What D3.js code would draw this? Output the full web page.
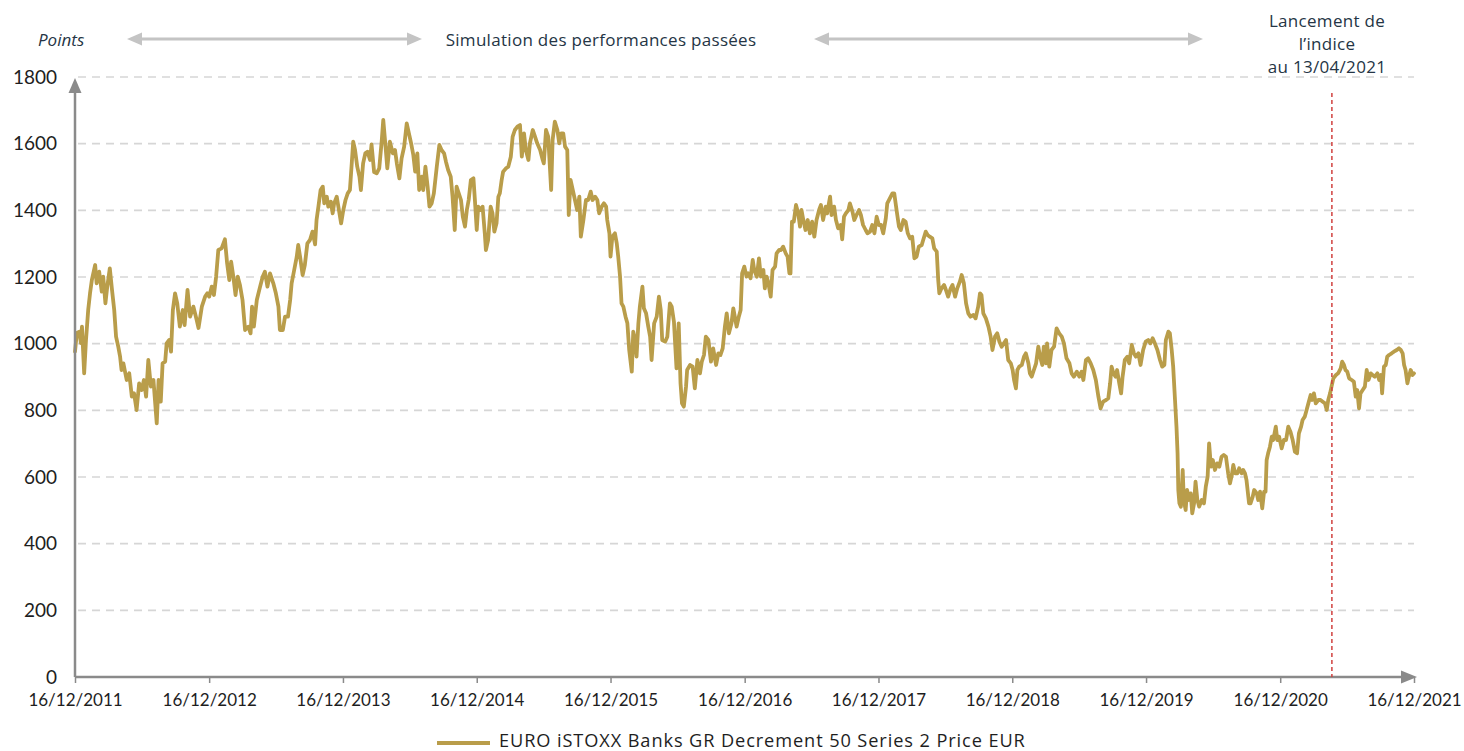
<!DOCTYPE html>
<html><head><meta charset="utf-8">
<script src="https://cdn.jsdelivr.net/npm/d3@7"></script>
<style>
html,body{margin:0;padding:0;background:#fff;overflow:hidden;}
svg{display:block;font-family:Lato,"Open Sans",sans-serif;}
</style></head><body>
<svg id="chart" width="1464" height="751"></svg>
<script>
// ---------------- DATA ----------------
const startDate = "16/12/2011";
const endDate = "16/12/2021";
const tickLabels = ["16/12/2011","16/12/2012","16/12/2013","16/12/2014","16/12/2015","16/12/2016","16/12/2017","16/12/2018","16/12/2019","16/12/2020","16/12/2021"];
const yTicks = [0,200,400,600,800,1000,1200,1400,1600,1800];
const seriesName = "EURO iSTOXX Banks GR Decrement 50 Series 2 Price EUR";
const unitLabel = "Points";
const simulationLabel = "Simulation des performances passées";
const launchLabel = ["Lancement de","l\u2019indice","au 13/04/2021"];
const launchMarkerDate = "06/05/2021";

// days elapsed since startDate
const dayOffsets = [
0,5,12,16,19,25,30,36,41,46,
55,59,66,73,77,83,88,95,101,107,
112,118,123,127,132,141,148,155,161,168,
175,182,188,194,200,207,214,223,228,234,
239,246,250,257,262,267,273,279,286,294,
299,307,314,323,332,337,346,355,361,366,
373,379,385,391,400,409,415,421,426,432,
438,444,450,457,464,473,479,483,488,496,
505,512,518,525,532,541,548,555,559,567,
573,581,587,591,598,605,609,614,621,627,
634,641,648,655,659,664,670,676,680,687,
691,698,703,707,714,720,726,732,738,744,
750,755,759,764,770,776,780,786,792,798,
805,809,816,823,830,837,841,848,852,859,
867,873,878,885,891,898,905,911,917,923,
928,934,939,946,950,956,962,967,973,979,
987,994,1000,1007,1012,1018,1025,1030,1036,1041,
1047,1053,1058,1064,1069,1074,1080,1087,1091,1096,
1100,1107,1112,1118,1121,1127,1134,1139,1144,1150,
1155,1159,1164,1168,1176,1182,1189,1194,1200,1207,
1214,1219,1225,1230,1237,1241,1249,1255,1261,1269,
1276,1279,1285,1291,1299,1303,1309,1316,1321,1326,
1332,1337,1343,1347,1352,1358,1364,1370,1376,1380,
1387,1394,1400,1407,1412,1419,1425,1430,1437,1443,
1449,1452,1458,1461,1466,1473,1478,1482,1487,1491,
1496,1502,1507,1512,1519,1523,1528,1532,1537,1541,
1548,1552,1558,1564,1569,1573,1580,1587,1593,1598,
1602,1610,1616,1623,1628,1634,1641,1647,1652,1656,
1661,1667,1670,1678,1685,1691,1698,1705,1710,1716,
1721,1728,1735,1741,1749,1755,1761,1767,1773,1778,
1784,1791,1796,1800,1805,1811,1816,1820,1826,1832,
1837,1843,1849,1853,1860,1866,1871,1878,1882,1887,
1891,1898,1903,1910,1914,1921,1926,1932,1939,1944,
1949,1952,1956,1961,1967,1973,1978,1982,1987,1993,
1999,2005,2011,2017,2023,2030,2035,2041,2048,2052,
2060,2064,2071,2076,2082,2089,2093,2098,2103,2110,
2114,2121,2126,2132,2139,2144,2150,2157,2162,2169,
2175,2181,2187,2193,2199,2205,2212,2216,2223,2230,
2235,2242,2248,2253,2260,2266,2272,2278,2284,2290,
2296,2302,2310,2314,2321,2326,2332,2339,2344,2351,
2355,2358,2364,2371,2376,2382,2389,2394,2401,2407,
2414,2419,2425,2431,2437,2443,2451,2457,2464,2469,
2473,2478,2485,2492,2498,2503,2510,2516,2522,2528,
2534,2540,2546,2553,2558,2562,2567,2571,2576,2583,
2589,2594,2601,2605,2610,2616,2622,2628,2633,2639,
2643,2649,2652,2658,2664,2671,2678,2685,2692,2698,
2705,2713,2719,2725,2733,2740,2746,2751,2758,2764,
2771,2778,2785,2792,2798,2805,2813,2819,2824,2828,
2833,2839,2843,2849,2854,2858,2864,2871,2876,2883,
2889,2894,2901,2907,2914,2921,2928,2934,2940,2946,
2953,2960,2966,2972,2976,2983,2987,2992,2996,3001,
3005,3008,3010,3013,3017,3022,3025,3030,3034,3039,
3044,3048,3053,3057,3062,3067,3074,3080,3085,3090,
3094,3099,3104,3110,3116,3122,3128,3134,3140,3146,
3151,3156,3160,3165,3171,3176,3183,3187,3192,3196,
3203,3207,3213,3217,3224,3228,3233,3239,3244,3248,
3251,3255,3260,3265,3269,3276,3280,3285,3292,3298,
3304,3310,3316,3322,3328,3334,3339,3345,3349,3355,
3360,3366,3371,3375,3380,3385,3392,3398,3404,3410,
3415,3419,3424,3428,3433,3440,3446,3453,3457,3462,
3466,3471,3476,3483,3489,3494,3498,3503,3507,3513,
3519,3524,3529,3535,3540,3546,3553,3558,3563,3566,
3571,3576,3580,3585,3592,3598,3606,3612,3617,3622,
3626,3630,3635,3639,3644,3649,3653
];

const indexValues = [
976,1032,1036,1002,1051,911,1011,1101,1151,1191,
1236,1181,1216,1156,1201,1121,1171,1226,1161,1101,
1021,991,961,921,941,891,911,841,851,801,
881,861,891,841,951,871,891,761,891,826,
941,946,1001,1011,976,1101,1151,1121,1051,1101,
1056,1161,1081,1111,1071,1047,1111,1141,1151,1141,
1171,1146,1201,1281,1286,1313,1241,1191,1246,1201,
1146,1201,1176,1131,1041,1051,1031,1111,1051,1131,
1171,1201,1216,1171,1211,1181,1151,1111,1041,1041,
1081,1081,1131,1181,1221,1261,1296,1261,1206,1236,
1301,1311,1336,1298,1371,1411,1461,1471,1421,1441,
1411,1426,1391,1421,1441,1401,1361,1401,1431,1451,
1461,1541,1606,1581,1531,1501,1461,1541,1571,1576,
1551,1598,1515,1511,1526,1611,1671,1581,1526,1606,
1571,1581,1541,1496,1556,1591,1661,1631,1601,1566,
1516,1571,1461,1501,1461,1531,1471,1411,1421,1451,
1531,1596,1581,1571,1546,1521,1501,1441,1341,1471,
1451,1431,1381,1351,1401,1431,1491,1496,1431,1341,
1411,1401,1411,1331,1281,1311,1411,1391,1336,1361,
1441,1451,1491,1516,1526,1531,1561,1621,1641,1651,
1656,1561,1631,1581,1551,1601,1641,1621,1601,1581,
1551,1541,1641,1621,1461,1611,1666,1641,1601,1631,
1631,1591,1581,1386,1491,1461,1431,1401,1441,1321,
1371,1431,1431,1456,1431,1441,1431,1391,1411,1421,
1411,1371,1331,1261,1321,1331,1301,1261,1201,1121,
1111,1081,1061,981,916,1036,1011,961,1061,1111,
1171,1106,1091,1051,1021,951,1061,1081,1141,1101,
1011,1006,1021,1121,1111,1066,926,1061,881,821,
811,871,921,936,931,866,951,911,946,966,
1021,1011,946,986,936,971,966,986,1051,1091,
1031,1061,1106,1081,1051,1081,1101,1211,1231,1201,
1211,1196,1251,1221,1201,1256,1201,1221,1166,1201,
1186,1141,1221,1231,1271,1281,1281,1291,1271,1261,
1211,1211,1366,1366,1416,1391,1351,1401,1371,1341,
1371,1331,1366,1321,1371,1401,1416,1371,1411,1391,
1441,1386,1411,1371,1346,1356,1313,1381,1391,1401,
1421,1396,1371,1386,1401,1386,1356,1341,1331,1336,
1356,1331,1381,1356,1356,1331,1376,1421,1436,1451,
1451,1396,1351,1341,1371,1366,1331,1316,1321,1256,
1261,1291,1296,1311,1336,1326,1321,1316,1286,1276,
1191,1151,1166,1176,1161,1141,1166,1176,1141,1166,
1186,1206,1181,1121,1091,1081,1086,1076,1111,1151,
1146,1091,1076,1051,1021,981,1021,1031,1006,991,
1001,1011,951,941,921,891,866,921,931,936,
961,971,941,911,901,921,941,991,961,936,
991,941,1001,931,981,991,1046,1031,1021,1001,
956,941,911,901,916,901,916,891,951,956,
941,921,891,841,806,826,831,836,881,931,
911,901,921,881,851,901,951,961,941,996,
971,961,971,936,981,1006,1011,1001,1016,1001,
981,951,931,936,1011,1036,1031,981,931,831,
751,671,561,521,511,621,531,501,561,531,
551,491,521,586,531,511,531,521,571,601,
701,631,651,621,641,631,661,666,661,611,
581,606,636,611,611,626,611,621,611,591,
521,521,541,561,551,531,556,506,556,556,
651,671,691,721,711,751,711,721,686,711,
711,751,736,711,676,671,731,751,771,781,
801,826,846,831,851,821,831,831,826,821,
801,831,851,871,896,906,911,926,946,936,
921,916,896,891,886,841,861,806,851,861,
871,921,891,911,906,901,911,891,906,851,
931,936,961,966,971,976,981,986,981,971,
936,921,881,901,921,906,911
];

// ---------------- CHART ----------------
const plot = {left: 75, right: 1414, top: 77, bottom: 677};
const lineColor = "#b99d4a";
const axisColor = "#8a8a8a";
const textColor = "#1e1e1e";
const noteColor = "#253545";
const wideFont = "'Open Sans', Lato, sans-serif";

const parse = d3.utcParse("%d/%m/%Y");
const t0 = parse(startDate), t1 = parse(endDate);
const data = dayOffsets.map((d, i) => ({date: d3.utcDay.offset(t0, d), value: indexValues[i]}));

const x = d3.scaleUtc().domain([t0, t1]).range([plot.left, plot.right]);
const y = d3.scaleLinear().domain([0, 1800]).range([plot.bottom, plot.top]);

const svg = d3.select("#chart");

// gridlines
svg.append("g").selectAll("line").data(yTicks.filter(v => v > 0)).join("line")
  .attr("x1", plot.left + 3).attr("x2", plot.right)
  .attr("y1", d => y(d)).attr("y2", d => y(d))
  .attr("stroke", "#d6d6d6").attr("stroke-width", 1.6)
  .attr("stroke-dasharray", "8,6");

// y tick labels
svg.append("g").selectAll("text").data(yTicks).join("text")
  .attr("x", 57).attr("y", d => y(d))
  .attr("dy", "0.35em").attr("text-anchor", "end")
  .attr("font-size", 19).attr("fill", textColor)
  .text(d => d);

// x axis via d3.axisBottom
const tickDates = tickLabels.map(parse);
const xAxis = d3.axisBottom(x).tickValues(tickDates)
  .tickFormat((d, i) => tickLabels[i]).tickSize(6).tickPadding(11);
const gx = svg.append("g").attr("transform", `translate(0,${plot.bottom})`).call(xAxis);
gx.select(".domain").remove();
gx.selectAll(".tick line").attr("stroke", axisColor).attr("stroke-width", 1.5);
gx.selectAll(".tick text").attr("font-size", 17).attr("fill", textColor)
  .attr("font-family", "Lato, 'Open Sans', sans-serif");

// series line
const line = d3.line().x(d => x(d.date)).y(d => y(d.value));
svg.append("path").datum(data)
  .attr("d", line).attr("fill", "none")
  .attr("stroke", lineColor).attr("stroke-width", 3.8)
  .attr("stroke-linejoin", "round").attr("stroke-linecap", "round");

// axes lines with arrows
svg.append("line").attr("x1", plot.left).attr("x2", plot.left)
  .attr("y1", plot.bottom).attr("y2", 90)
  .attr("stroke", axisColor).attr("stroke-width", 2.5);
svg.append("path").attr("d", `M${plot.left},78 L${plot.left-6.5},93 L${plot.left+6.5},93 Z`).attr("fill", axisColor);
svg.append("line").attr("x1", plot.left).attr("x2", 1404)
  .attr("y1", plot.bottom).attr("y2", plot.bottom)
  .attr("stroke", axisColor).attr("stroke-width", 2.5);
svg.append("path").attr("d", `M1417,${plot.bottom} L1401,${plot.bottom-6.5} L1401,${plot.bottom+6.5} Z`).attr("fill", axisColor);

// launch marker
const xl = x(parse(launchMarkerDate));
svg.append("line").attr("x1", xl).attr("x2", xl)
  .attr("y1", 93).attr("y2", plot.bottom)
  .attr("stroke", "#d0413f").attr("stroke-width", 1.5)
  .attr("stroke-dasharray", "4,3");

svg.append("g").selectAll("text").data(launchLabel).join("text")
  .attr("x", 1327).attr("y", (d, i) => 21 + i * 23).attr("dy", "0.35em")
  .attr("text-anchor", "middle").attr("font-size", 17).attr("font-family", wideFont)
  .attr("letter-spacing", 0.3).attr("fill", noteColor).text(d => d);

// header annotations
svg.append("text").attr("x", 38).attr("y", 40).attr("dy", "0.35em")
  .attr("font-size", 17).attr("font-style", "italic").attr("font-family", wideFont)
  .attr("fill", noteColor).text(unitLabel);
svg.append("text").attr("x", 601).attr("y", 40).attr("dy", "0.35em")
  .attr("text-anchor", "middle").attr("font-size", 17).attr("font-family", wideFont)
  .attr("letter-spacing", 0.3).attr("fill", noteColor).text(simulationLabel);

function dblArrow(xa, xb, yy) {
  const g = svg.append("g").attr("fill", "#c4c4c4");
  g.append("line").attr("x1", xa + 10).attr("x2", xb - 10).attr("y1", yy).attr("y2", yy)
    .attr("stroke", "#c4c4c4").attr("stroke-width", 3);
  g.append("path").attr("d", `M${xa},${yy} L${xa+15},${yy-6.5} L${xa+15},${yy+6.5} Z`);
  g.append("path").attr("d", `M${xb},${yy} L${xb-15},${yy-6.5} L${xb-15},${yy+6.5} Z`);
}
dblArrow(127, 422, 39);
dblArrow(814, 1203, 39);

// legend
svg.append("line").attr("x1", 437).attr("x2", 490).attr("y1", 743).attr("y2", 743)
  .attr("stroke", lineColor).attr("stroke-width", 4);
svg.append("text").attr("x", 499).attr("y", 741).attr("dy", "0.35em")
  .attr("font-size", 18.2).attr("font-family", wideFont).attr("letter-spacing", 0.9)
  .attr("fill", textColor).text(seriesName);
</script>
</body></html>
